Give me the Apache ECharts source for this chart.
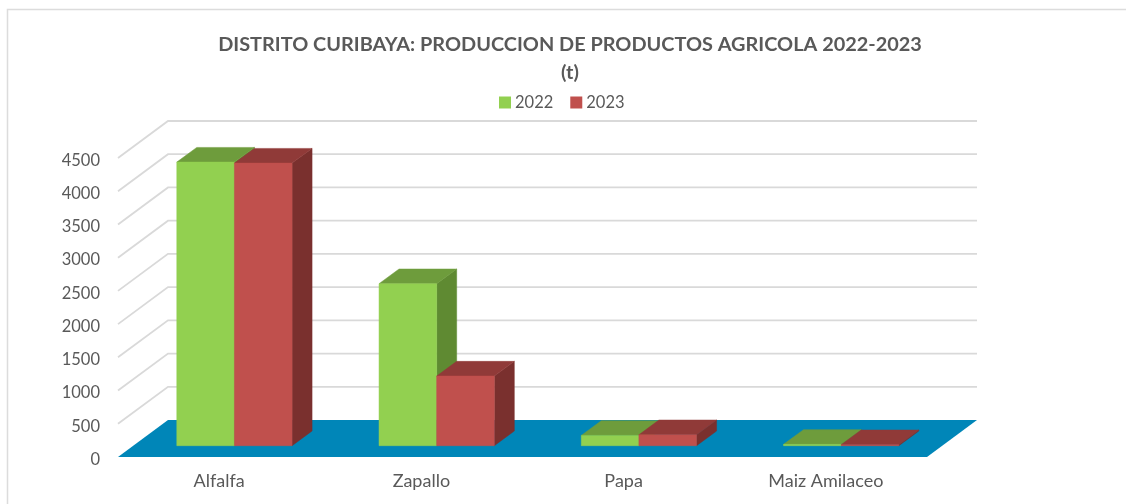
<!DOCTYPE html>
<html><head><meta charset="utf-8">
<style>html,body{margin:0;padding:0;background:#fff}#c{width:1126px;height:504px}</style>
<script src="https://cdn.jsdelivr.net/npm/echarts@6/dist/echarts.min.js"></script>
</head><body><div id="c"></div>
<script>
const categories = ['Alfalfa', 'Zapallo', 'Papa', 'Maiz Amilaceo'];
const values2022 = [4268, 2438, 155, 20];
const values2023 = [4253, 1048, 165, 15];
const yTicks = [0, 500, 1000, 1500, 2000, 2500, 3000, 3500, 4000, 4500];

const FONT = 'Lato';
const TXT = '#595959';
const DX = 50, DY = -37;
const BAR_DX = 20, BAR_DY = -14.7;
const GAP_DX = 15.3, GAP_DY = -11.3;
const BAR_FRAC = 0.285;

function barRender(idx, cols) {
  return function (params, api) {
    const cat = api.value(0), val = api.value(1);
    const base = api.coord([cat, 0]);
    const top = api.coord([cat, val]);
    const bw = api.size([1, 0])[0] * BAR_FRAC;
    const x0 = base[0] + GAP_DX + (idx === 0 ? -bw : 0);
    const x1 = x0 + bw;
    const yb = base[1] + GAP_DY;
    const yt = top[1] + GAP_DY;
    const poly = (pts, fill) => ({ type: 'polygon', shape: { points: pts },
      style: { fill: fill, stroke: fill, lineWidth: 0.5 } });
    return { type: 'group', children: [
      poly([[x1, yb], [x1 + BAR_DX, yb + BAR_DY], [x1 + BAR_DX, yt + BAR_DY], [x1, yt]], cols.side),
      poly([[x0, yt], [x1, yt], [x1 + BAR_DX, yt + BAR_DY], [x0 + BAR_DX, yt + BAR_DY]], cols.top),
      poly([[x0, yb], [x1, yb], [x1, yt], [x0, yt]], cols.front)
    ]};
  };
}
function plotEnds(api, v) {
  const half = api.size([1, 0])[0] / 2;
  const a = api.coord([0, v]), b = api.coord([categories.length - 1, v]);
  return [[a[0] - half, a[1]], [b[0] + half, b[1]]];
}

const chart = echarts.init(document.getElementById('c'), null, { renderer: 'canvas' });
chart.setOption({
  animation: false,
  backgroundColor: '#fff',
  title: {
    text: 'DISTRITO CURIBAYA: PRODUCCION DE PRODUCTOS AGRICOLA 2022-2023\n(t)',
    left: 565, top: 26, textAlign: 'center',
    textStyle: { fontFamily: FONT, fontSize: 19.9, fontWeight: 'bold', color: TXT, lineHeight: 28 }
  },
  legend: {
    left: 494, top: 89, itemWidth: 12, itemHeight: 12, itemGap: 17,
    icon: 'rect',
    textStyle: { fontFamily: FONT, fontSize: 16.5, color: TXT, padding: [0,0,0,-1] },
    data: ['2022', '2023']
  },
  grid: { left: 118, top: 158, width: 809, height: 299 },
  xAxis: {
    type: 'category', data: categories,
    axisLine: { show: false }, axisTick: { show: false },
    axisLabel: { fontFamily: FONT, fontSize: 18, color: TXT, margin: 15 }
  },
  yAxis: {
    type: 'value', min: 0, max: 4500, interval: 500,
    axisLine: { show: false }, axisTick: { show: false }, splitLine: { show: false },
    axisLabel: {
      margin: 18,
      formatter: v => '{n|' + v + '}',
      rich: { n: { fontFamily: FONT, fontSize: 16.5, color: TXT, padding: [5, 0, 0, 0] } }
    }
  },
  series: [
    {
      type: 'custom', name: 'floor', silent: true, z: 1,
      data: [[0]],
      renderItem: function (params, api) {
        const [a, b] = plotEnds(api, 0);
        return { type: 'polygon', shape: { points: [a, b, [b[0] + DX, b[1] + DY], [a[0] + DX, a[1] + DY]] },
          style: { fill: '#0086B8' } };
      }
    },
    {
      type: 'custom', name: 'walls', silent: true, z: 2,
      data: yTicks.slice(1).map(v => [v]),
      renderItem: function (params, api) {
        const [a, b] = plotEnds(api, api.value(0));
        return { type: 'polyline', shape: { points: [a, [a[0] + DX, a[1] + DY], [b[0] + DX, b[1] + DY]] },
          style: { stroke: '#D9D9D9', lineWidth: 1.8, fill: null } };
      }
    },
    {
      type: 'custom', name: '2022', z: 3, itemStyle: { color: '#92D050' },
      encode: { x: 0, y: 1 },
      data: values2022.map((v, i) => [i, v]),
      renderItem: barRender(0, { front: '#92D050', top: '#6E9C3C', side: '#5F8A32' })
    },
    {
      type: 'custom', name: '2023', z: 4, itemStyle: { color: '#C0504D' },
      encode: { x: 0, y: 1 },
      data: values2023.map((v, i) => [i, v]),
      renderItem: barRender(1, { front: '#C0504D', top: '#903A38', side: '#7A302E' })
    }
  ],
  graphic: [
    { type: 'polyline', silent: true, shape: { points: [[7.5, 504], [7.5, 9.5], [1126, 9.5]] },
      style: { stroke: '#DCDCDC', lineWidth: 1.5, fill: null } }
  ]
});
</script></body></html>
